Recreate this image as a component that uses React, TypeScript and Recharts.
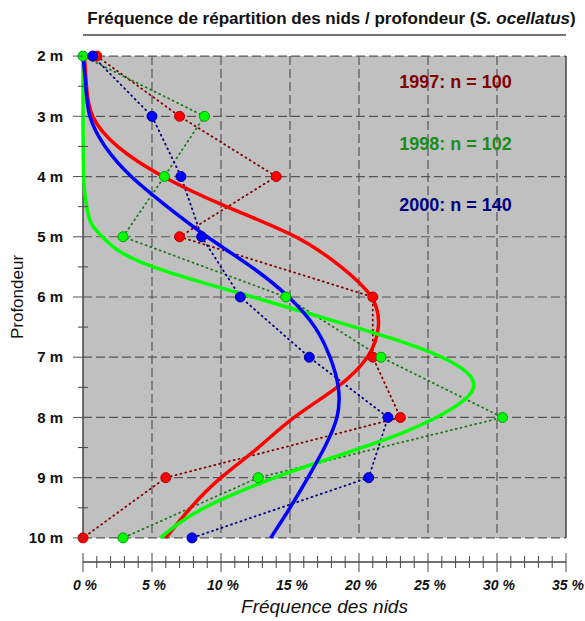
import { LineChart, Line, XAxis, YAxis, ReferenceArea, ReferenceLine } from 'recharts';

// profondeur (m) des relevés
const depths = [2, 3, 4, 5, 6, 7, 8, 9, 10];

// fréquences observées (%)
const freq1997 = [1, 7, 14, 7, 21, 21, 23, 6, 0];
const freq1998 = [0, 8.8, 5.9, 2.9, 14.7, 21.6, 30.4, 12.7, 2.9];
const freq2000 = [0.7, 5.0, 7.1, 8.6, 11.4, 16.4, 22.1, 20.7, 7.9];

// courbes ajustées
const fitDepths = [2, 2.5, 3, 3.5, 4, 4.5, 5, 5.5, 6, 6.5, 7, 7.5, 8, 8.5, 9, 9.5, 10];
const fit1997 = [0.1, 0.25, 0.7, 2.5, 5.8, 10.4, 15.4, 18.7, 20.9, 21.4, 20.6, 18.4, 15.3, 12.7, 10, 7.8, 6];
const fit2000 = [0, 0.2, 0.5, 1.6, 3.5, 6.1, 9.0, 12.2, 14.9, 16.8, 17.9, 18.5, 18.4, 17.5, 16.3, 15.0, 13.6];
const fitDepths1998 = [2, 3, 4, 4.4, 4.75, 5, 5.25, 5.5, 5.75, 6, 6.25, 6.5, 6.75, 7, 7.25, 7.5, 7.75, 8, 8.25, 8.5, 8.75, 9, 9.5, 10];
const fit1998 = [0, 0, 0.05, 0.2, 0.55, 1.4, 2.7, 5.1, 8.5, 12.3, 16, 19.7, 23.2, 26, 27.8, 28.3, 27.4, 25.6, 23.2, 20.2, 17, 13.9, 8.8, 5.6];

const pctTicks = Array.from({ length: 36 }, (_, i) => i);
const gridPct = [5, 10, 15, 20, 25, 30];
const depthTicks = [2, 2.5, 3, 3.5, 4, 4.5, 5, 5.5, 6, 6.5, 7, 7.5, 8, 8.5, 9, 9.5, 10];

const toRows = (ds: number[], vals: number[]) => ds.map((d, i) => ({ depth: d, pct: vals[i] }));

const obs1997 = toRows(depths, freq1997);
const obs1998 = toRows(depths, freq1998);
const obs2000 = toRows(depths, freq2000);
const curve1997 = toRows(fitDepths, fit1997);
const curve1998 = toRows(fitDepths1998, fit1998);
const curve2000 = toRows(fitDepths, fit2000);

const FONT = '"Liberation Sans", Arial, sans-serif';
const AXIS = '#444';
const GRID = '#555';

const BottomTick = ({ x, y, payload }: any) => {
  const v = payload.value;
  const major = v % 5 === 0;
  return (
    <g>
      <line x1={x} x2={x} y1={major ? y - 9 : y - 6} y2={major ? y + 10 : y + 6} stroke={AXIS} strokeWidth={1} />
      {major && (
        <text x={x + 2} y={y + 28} textAnchor="middle" fontFamily={FONT} fontSize={14} fontWeight="bold" fontStyle="italic" fill="#111">
          {v} %
        </text>
      )}
    </g>
  );
};

const TopTick = ({ x, y, payload }: any) => {
  const major = payload.value % 5 === 0;
  return <line x1={x} x2={x} y1={y} y2={y + (major ? 8 : 5)} stroke={AXIS} strokeWidth={1} />;
};

const LeftTick = ({ x, y, payload }: any) => {
  const v = payload.value;
  if (Number.isInteger(v)) {
    return (
      <g>
        <line x1={x - 10} x2={x} y1={y} y2={y} stroke={GRID} strokeWidth={1} />
        <text x={x - 20} y={y} dy="0.35em" textAnchor="end" fontFamily={FONT} fontSize={15} fontWeight="bold" fill="#111">
          {v} m
        </text>
      </g>
    );
  }
  return <line x1={x - 5} x2={x + 5} y1={y} y2={y} stroke={AXIS} strokeWidth={1} />;
};

const RightTick = ({ x, y, payload }: any) => {
  if (Number.isInteger(payload.value)) return <g />;
  return <line x1={x - 5} x2={x} y1={y} y2={y} stroke={AXIS} strokeWidth={1} />;
};

export default function App() {
  return (
    <div style={{ position: 'absolute', left: 0, top: 0, width: 585, height: 621, background: '#fff', fontFamily: FONT }}>
      <LineChart
        width={585}
        height={621}
        layout="vertical"
        margin={{ top: 0, right: 0, bottom: 0, left: 0 }}
      >
        <XAxis
          xAxisId="bottom"
          type="number"
          orientation="bottom"
          domain={[0, 35]}
          ticks={pctTicks}
          interval={0}
          height={59}
          tickSize={0}
          tickMargin={0}
          tickLine={false}
          axisLine={{ stroke: AXIS, strokeWidth: 1.5 }}
          tick={<BottomTick />}
        />
        <XAxis
          xAxisId="top"
          type="number"
          orientation="top"
          domain={[0, 35]}
          ticks={pctTicks}
          interval={0}
          height={35}
          tickSize={0}
          tickMargin={0}
          tickLine={false}
          axisLine={{ stroke: AXIS, strokeWidth: 1.5 }}
          tick={<TopTick />}
        />
        <YAxis
          yAxisId="left"
          type="number"
          dataKey="depth"
          orientation="left"
          domain={[1.65, 10.4]}
          ticks={depthTicks}
          interval={0}
          width={83}
          tickSize={0}
          tickMargin={0}
          tickLine={false}
          axisLine={false}
          tick={<LeftTick />}
        />
        <YAxis
          yAxisId="right"
          type="number"
          orientation="right"
          domain={[1.65, 10.4]}
          ticks={depthTicks}
          interval={0}
          width={19}
          tickSize={0}
          tickMargin={0}
          tickLine={false}
          axisLine={false}
          tick={<RightTick />}
        />

        <ReferenceArea xAxisId="bottom" yAxisId="left" x1={0} x2={35} y1={2} y2={10} fill="#c0c0c0" fillOpacity={1} stroke="none" />
        {depths.map((d) => (
          <ReferenceLine
            key={'h' + d}
            xAxisId="bottom"
            yAxisId="left"
            segment={[{ x: 0, y: d }, { x: 35, y: d }]}
            stroke={GRID}
            strokeWidth={1.2}
            strokeDasharray="9 4"
          />
        ))}
        {gridPct.map((p) => (
          <ReferenceLine
            key={'v' + p}
            xAxisId="bottom"
            yAxisId="left"
            segment={[{ x: p, y: 2 }, { x: p, y: 10 }]}
            stroke={GRID}
            strokeWidth={1.2}
            strokeDasharray="9 4"
          />
        ))}
        <ReferenceLine xAxisId="bottom" yAxisId="left" segment={[{ x: 0, y: 2 }, { x: 0, y: 10 }]} stroke={AXIS} strokeWidth={1.5} />
        <ReferenceLine xAxisId="bottom" yAxisId="left" segment={[{ x: 35, y: 2 }, { x: 35, y: 10 }]} stroke={AXIS} strokeWidth={1.5} />

        {/* observations : pointillés */}
        <Line xAxisId="bottom" yAxisId="left" data={obs1997} dataKey="pct" type="linear" stroke="#800000" strokeWidth={1.8} strokeDasharray="1 4" strokeLinecap="round" dot={false} activeDot={false} isAnimationActive={false} />
        <Line xAxisId="bottom" yAxisId="left" data={obs1998} dataKey="pct" type="linear" stroke="#1a7a1a" strokeWidth={1.8} strokeDasharray="1 4" strokeLinecap="round" dot={false} activeDot={false} isAnimationActive={false} />
        <Line xAxisId="bottom" yAxisId="left" data={obs2000} dataKey="pct" type="linear" stroke="#000080" strokeWidth={1.8} strokeDasharray="1 4" strokeLinecap="round" dot={false} activeDot={false} isAnimationActive={false} />

        {/* courbes ajustées */}
        <Line xAxisId="bottom" yAxisId="left" data={curve1997} dataKey="pct" type="natural" stroke="#ff0000" strokeWidth={3.5} dot={false} activeDot={false} isAnimationActive={false} />
        <Line xAxisId="bottom" yAxisId="left" data={curve1998} dataKey="pct" type="natural" stroke="#00ff00" strokeWidth={3.5} dot={false} activeDot={false} isAnimationActive={false} />
        <Line xAxisId="bottom" yAxisId="left" data={curve2000} dataKey="pct" type="natural" stroke="#0000ff" strokeWidth={3.5} dot={false} activeDot={false} isAnimationActive={false} />

        {/* points */}
        <Line xAxisId="bottom" yAxisId="left" data={obs1997} dataKey="pct" stroke="none" dot={{ r: 5, fill: '#ff0000', stroke: '#b00000', strokeWidth: 1 }} activeDot={false} isAnimationActive={false} />
        <Line xAxisId="bottom" yAxisId="left" data={obs1998} dataKey="pct" stroke="none" dot={{ r: 5, fill: '#00ff00', stroke: '#00a000', strokeWidth: 1 }} activeDot={false} isAnimationActive={false} />
        <Line xAxisId="bottom" yAxisId="left" data={obs2000} dataKey="pct" stroke="none" dot={{ r: 5, fill: '#0000ff', stroke: '#000090', strokeWidth: 1 }} activeDot={false} isAnimationActive={false} />
      </LineChart>

      <div style={{ position: 'absolute', left: 0, width: 585, top: 9, paddingLeft: 78, boxSizing: 'border-box', textAlign: 'center', fontSize: 17, fontWeight: 'bold', color: '#111', whiteSpace: 'nowrap' }}>
        Fréquence de répartition des nids / profondeur (<i>S. ocellatus</i>)
      </div>
      <div style={{ position: 'absolute', left: 378, width: 155, top: 72, textAlign: 'center', fontSize: 18, fontWeight: 'bold', color: '#800000' }}>
        1997: n = 100
      </div>
      <div style={{ position: 'absolute', left: 378, width: 155, top: 134, textAlign: 'center', fontSize: 18, fontWeight: 'bold', color: '#1a8c1a' }}>
        1998: n = 102
      </div>
      <div style={{ position: 'absolute', left: 378, width: 155, top: 195, textAlign: 'center', fontSize: 18, fontWeight: 'bold', color: '#000080' }}>
        2000: n = 140
      </div>
      <div style={{ position: 'absolute', left: 83, width: 483, top: 596, textAlign: 'center', fontSize: 19, fontStyle: 'italic', color: '#111' }}>
        Fréquence des nids
      </div>
      <div style={{ position: 'absolute', left: 18, top: 297, transform: 'translate(-50%, -50%) rotate(-90deg)', fontSize: 17, color: '#111', whiteSpace: 'nowrap' }}>
        Profondeur
      </div>
    </div>
  );
}
